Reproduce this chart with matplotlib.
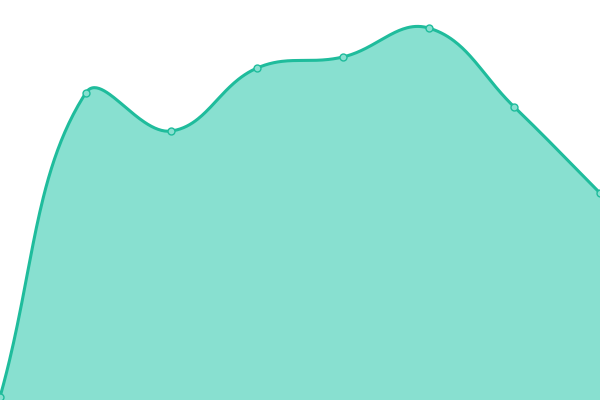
import numpy as np
import matplotlib
matplotlib.use('Agg')
import matplotlib.pyplot as plt

# values (height above the bottom edge)
positions = [0, 1, 2, 3, 4, 5, 6, 7]
values = [3, 307, 269, 332, 343, 372, 293, 207]

line_color = '#1fbc9c'
fill_color = '#88e0d0'
tension = 0.4

fig = plt.figure(figsize=(6, 4), dpi=100)
ax = fig.add_axes([0, 0, 1, 1])
ax.set_xlim(0, 7)
ax.set_ylim(0, 400)
ax.axis('off')

# spline in pixel space, chart.js style control points
px = np.array(positions) * 600 / 7
py = np.array(values, dtype=float)
n = len(px)
cp_prev = np.zeros((n, 2))
cp_next = np.zeros((n, 2))
for i in range(n):
    p0 = np.array([px[max(i - 1, 0)], py[max(i - 1, 0)]])
    p1 = np.array([px[i], py[i]])
    p2 = np.array([px[min(i + 1, n - 1)], py[min(i + 1, n - 1)]])
    d01 = np.hypot(*(p1 - p0))
    d12 = np.hypot(*(p2 - p1))
    tot = d01 + d12
    s01 = d01 / tot if tot else 0
    s12 = d12 / tot if tot else 0
    cp_prev[i] = p1 - tension * s01 * (p2 - p0)
    cp_next[i] = p1 + tension * s12 * (p2 - p0)

t = np.linspace(0, 1, 60)[:, None]
curve = []
for i in range(n - 1):
    a = np.array([px[i], py[i]])
    b = cp_next[i]
    c = cp_prev[i + 1]
    d = np.array([px[i + 1], py[i + 1]])
    seg = (1 - t) ** 3 * a + 3 * (1 - t) ** 2 * t * b + 3 * (1 - t) * t ** 2 * c + t ** 3 * d
    curve.append(seg if i == 0 else seg[1:])
curve = np.vstack(curve)
cx = curve[:, 0] * 7 / 600
cy = np.clip(curve[:, 1], 0, 400)

ax.fill_between(cx, 0, cy, color=fill_color, lw=0)
ax.plot(cx, cy, color=line_color, lw=2.2, solid_capstyle='round')
ax.plot(positions, values, 'o', ms=5, mfc=fill_color, mec=line_color, mew=1, clip_on=False)

fig.savefig('out.png', dpi=100)
